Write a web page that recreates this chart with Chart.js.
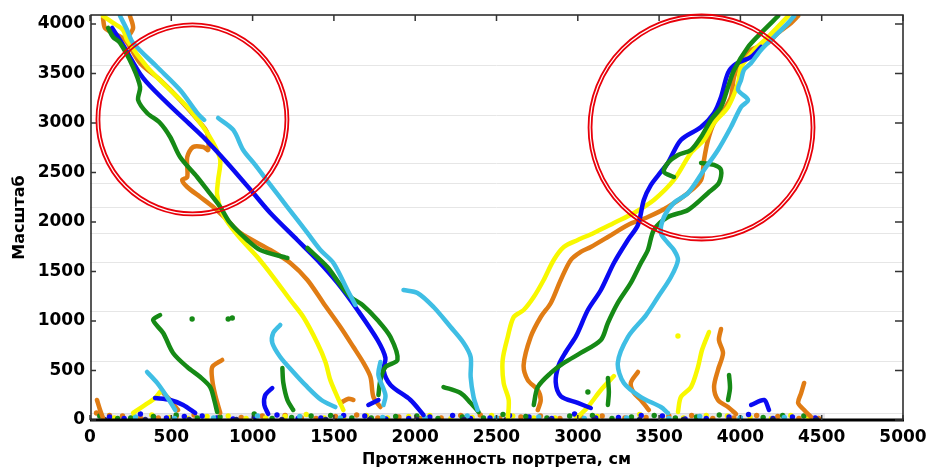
<!DOCTYPE html>
<html>
<head>
<meta charset="utf-8">
<script src="https://cdn.jsdelivr.net/npm/chart.js@4"></script>
<style>
  html, body { margin: 0; padding: 0; background: #fff; }
</style>
</head>
<body>
<canvas id="chart" width="926" height="471"></canvas>
<script>
// axis ticks and the light horizontal rules of the original picture
const xTicks = [0, 500, 1000, 1500, 2000, 2500, 3000, 3500, 4000, 4500, 5000];
const yTicks = [0, 500, 1000, 1500, 2000, 2500, 3000, 3500, 4000];
const gridLines = [71, 596, 1101, 1596, 1889, 2151, 2394, 2596, 3081, 3586];

// traces: [length, scale]
const blueL = [[136,3959],[203,3788],[326,3454],[474,3202],[598,3010],[696,2858],[844,2596],[1004,2293],[1109,2091],[1275,1818],[1398,1616],[1522,1384],[1645,1111],[1768,808],[1817,626],[1805,505],[1848,354],[1971,202],[2051,51]];
const cyanL1 = [[185,4080],[228,3939],[265,3808],[413,3565],[554,3333],[659,3101],[702,3030]];
const cyanL2 = [[788,3050],[881,2929],[942,2727],[1016,2576],[1109,2374],[1214,2151],[1337,1889],[1417,1717],[1497,1586],[1583,1313],[1632,1162]];
const cyanL3 = [[1786,586],[1774,454],[1817,252],[1805,152]];
const greenL1 = [[111,3959],[142,3868],[185,3808],[265,3565],[308,3363],[296,3232],[351,3101],[431,3000],[493,2858],[554,2656],[659,2454],[721,2323],[801,2151],[862,1990],[967,1818],[1047,1717],[1214,1636]];
const greenL2 = [[1337,1737],[1460,1545],[1540,1364],[1602,1242],[1676,1162],[1768,1010],[1848,838],[1891,606],[1817,535],[1786,404],[1774,253]];
const orangeL = [[80,4060],[92,3959],[142,3909],[216,3838],[308,3606],[431,3434],[554,3232],[678,3000],[721,2899],[727,2727],[696,2757],[634,2757],[598,2656],[598,2454],[567,2424],[598,2353],[678,2252],[758,2151],[844,2020],[924,1889],[1109,1717],[1232,1586],[1337,1414],[1435,1182],[1540,939],[1620,737],[1682,576],[1725,434],[1743,232],[1786,131]];
const orangeL2 = [[246,4080],[265,3959],[234,3868]];
const yellowL = [[80,4080],[142,4010],[203,3939],[228,3838],[351,3565],[474,3363],[598,3161],[696,2959],[758,2798],[801,2626],[788,2424],[782,2273],[819,2071],[906,1869],[1029,1646],[1127,1444],[1232,1212],[1312,1040],[1398,778],[1448,586],[1478,404],[1522,232],[1558,101]];

const blueR = [[3080,121],[3000,172],[2895,242],[2864,384],[2883,556],[2926,687],[2990,850],[3062,1111],[3142,1313],[3222,1586],[3308,1818],[3370,1970],[3406,2222],[3450,2374],[3511,2505],[3554,2596],[3634,2828],[3758,2959],[3838,3101],[3881,3262],[3924,3505],[3973,3596],[4066,3666],[4127,3767]];
const yellowR = [[2569,0],[2575,202],[2544,374],[2538,606],[2569,838],[2606,1040],[2667,1111],[2729,1242],[2790,1414],[2852,1616],[2914,1747],[3000,1818],[3098,1889],[3222,1990],[3345,2091],[3468,2222],[3591,2424],[3696,2697],[3776,2828],[3838,3000],[3924,3161],[3986,3404],[4004,3565],[4084,3737],[4170,3868],[4294,4080]];
const orangeR = [[2754,101],[2772,202],[2754,303],[2692,404],[2667,556],[2710,838],[2772,1040],[2834,1182],[2895,1414],[2957,1616],[3018,1697],[3080,1747],[3185,1848],[3308,1970],[3431,2050],[3554,2151],[3678,2293],[3758,2424],[3776,2626],[3801,2828],[3838,3000],[3899,3131],[3942,3262],[3961,3464],[4004,3636],[4066,3737],[4170,3808],[4232,3909],[4312,4010],[4355,4080]];
const greenR1 = [[2729,152],[2754,333],[2834,475],[2914,576],[3018,677],[3142,808],[3185,980],[3246,1182],[3326,1384],[3388,1586],[3431,1717],[3468,1919],[3554,2050],[3678,2121],[3801,2293],[3868,2394],[3881,2525],[3838,2576],[3758,2596]];
const greenR2 = [[3591,2454],[3530,2505],[3554,2596],[3616,2677],[3696,2727],[3758,2858],[3819,3030],[3881,3161],[3924,3363],[3961,3535],[4047,3767],[4127,3909],[4232,4080]];
const cyanR = [[3554,71],[3511,131],[3388,232],[3283,374],[3246,576],[3308,838],[3420,1060],[3493,1242],[3573,1444],[3616,1616],[3591,1717],[3554,1788],[3511,1889],[3530,2050],[3591,2192],[3678,2293],[3776,2525],[3862,2727],[3942,2959],[4004,3161],[4047,3232],[3986,3333],[4004,3434],[4022,3535],[4066,3606],[4127,3737],[4207,3868],[4294,4010],[4330,4080]];

const cyanM = [[1928,1313],[2014,1283],[2113,1141],[2218,939],[2298,778],[2341,636],[2341,434],[2359,232],[2384,101]];
const greenM = [[2174,333],[2279,273],[2341,172],[2390,81]];
const cyanS = [[1170,960],[1127,879],[1121,778],[1170,636],[1250,485],[1324,354],[1423,202],[1509,131]];
const greenF1 = [[431,1060],[388,1010],[450,879],[511,677],[598,535],[678,434],[739,333],[764,202],[782,81]];
const orangeF1 = [[813,606],[752,535],[752,404],[770,252],[801,71]];
const blueF1 = [[1121,323],[1078,252],[1072,152],[1096,61]];
const greenF2 = [[1183,525],[1189,374],[1214,202],[1250,101]];
const cyanF1 = [[351,485],[413,374],[474,232],[524,101]];
const yellowF1 = [[265,71],[339,152],[400,222],[431,283]];
const orangeF2 = [[450,273],[493,202],[542,101]];
const blueF2 = [[400,222],[493,202],[573,152],[647,71]];
const orangeF3 = [[43,202],[62,101],[80,20]];
const yellowF2 = [[3616,81],[3634,232],[3696,333],[3739,535],[3764,707],[3807,889]];
const orangeF4 = [[3881,919],[3868,808],[3893,677],[3862,505],[3838,333],[3862,202],[3924,131],[3973,61]];
const greenF3 = [[3930,455],[3936,323],[3924,202]];
const orangeF5 = [[4392,374],[4374,273],[4355,172],[4392,101],[4435,30]];
const orangeF6 = [[3370,485],[3326,374],[3345,273],[3388,202],[3437,101]];
const yellowF3 = [[3222,444],[3142,303],[3062,131],[3000,30]];
const greenF4 = [[3185,424],[3191,283],[3185,152]];
const blueF3 = [[4066,152],[4146,202],[4176,101]];
const orangeF7 = [[1540,172],[1590,215],[1620,202]];
const blueF4 = [[1712,152],[1774,202]];

// isolated blobs and the clutter along the bottom edge
const greenDots = [[628,1020],[850,1020],[875,1030],[3062,283],[60,40],[170,15],[250,20],[390,35],[530,50],[660,20],[800,30],[1010,60],[1120,15],[1240,25],[1360,40],[1480,45],[1610,20],[1730,20],[1880,35],[2010,40],[2140,15],[2290,30],[2420,20],[2540,55],[2680,35],[2810,20],[2950,40],[3090,45],[3210,15],[3330,30],[3470,45],[3600,20],[3730,30],[3870,50],[4000,20],[4140,25],[4260,45],[4390,40]];
const yellowDots = [[3616,848],[150,20],[270,35],[380,50],[490,25],[600,15],[720,35],[850,40],[960,15],[1080,20],[1200,35],[1330,55],[1440,20],[1560,30],[1700,45],[1830,20],[1960,35],[2090,45],[2220,15],[2350,25],[2470,45],[2600,40],[2730,20],[2860,20],[2990,40],[3120,35],[3250,15],[3380,55],[3520,30],[3650,20],[3790,45],[3920,40],[4060,25],[4190,15],[4310,45],[4420,30]];
const blueDots = [[120,30],[210,15],[310,60],[390,15],[470,20],[580,35],[690,40],[780,20],[880,10],[1010,25],[1150,50],[1280,15],[1420,20],[1560,45],[1690,40],[1820,10],[1960,15],[2090,30],[2230,45],[2340,15],[2460,20],[2580,45],[2700,30],[2840,15],[2980,60],[3110,20],[3250,25],[3390,45],[3520,40],[3660,10],[3790,15],[3930,30],[4050,55],[4200,15],[4320,30],[4460,20]];
const orangeDots = [[40,70],[120,45],[200,40],[310,20],[420,20],[530,35],[640,50],[790,20],[930,25],[1060,40],[1200,45],[1300,20],[1390,15],[1510,35],[1640,50],[1770,20],[1900,30],[2030,15],[2160,20],[2280,45],[2400,50],[2520,15],[2650,30],[2770,40],[2890,15],[3020,30],[3150,40],[3290,20],[3420,25],[3560,40],[3700,45],[3830,15],[3960,20],[4100,45],[4230,35],[4360,15],[4480,15]];
const cyanDots = [[280,30],[520,15],[760,20],[1030,40],[1290,35],[1540,20],[1800,25],[2060,20],[2320,40],[2500,20],[2760,30],[3040,15],[3300,20],[3560,15],[3750,35],[4000,20],[4270,25]];
const navyDots = [[90,5],[340,5],[610,5],[900,5],[1180,5],[1450,5],[1720,5],[2010,5],[2300,5],[2560,5],[2830,5],[3100,5],[3380,5],[3650,5],[3930,5],[4200,5],[4470,5]];

// the pale strip along the bottom: [xFrom, xTo, yFrom, yTo]
const bandBox = [40, 4520, 0, 70];
// red rings drawn over the chart: [x, y] centres
const ringCentres = [[630, 3035], [3761, 2954]];
const ringRadius = [96, 113];

const colors = {
    blue: "#0a0af2",
    cyan: "#3fbee4",
    green: "#168a16",
    orange: "#e07c14",
    yellow: "#f8f800",
    navy: "#2b2a6e"
};

const lines = [
    [cyanL1, "cyan"], [cyanL2, "cyan"], [cyanL3, "cyan"], [cyanR, "cyan"], [cyanM, "cyan"], [cyanS, "cyan"], [cyanF1, "cyan"],
    [greenL1, "green"], [greenL2, "green"], [greenR1, "green"], [greenR2, "green"], [greenM, "green"],
    [greenF1, "green"], [greenF2, "green"], [greenF3, "green"], [greenF4, "green"],
    [blueL, "blue"], [blueR, "blue"], [blueF1, "blue"], [blueF2, "blue"], [blueF3, "blue"], [blueF4, "blue"],
    [yellowL, "yellow"], [yellowR, "yellow"], [yellowF1, "yellow"], [yellowF2, "yellow"], [yellowF3, "yellow"],
    [orangeL, "orange"], [orangeL2, "orange"], [orangeR, "orange"], [orangeF1, "orange"], [orangeF2, "orange"],
    [orangeF3, "orange"], [orangeF4, "orange"], [orangeF5, "orange"], [orangeF6, "orange"], [orangeF7, "orange"]
];
const dots = [[navyDots, "navy"], [cyanDots, "cyan"], [greenDots, "green"], [blueDots, "blue"], [yellowDots, "yellow"], [orangeDots, "orange"]];

const datasets = lines.map(([data, c]) => ({
    data: data,
    borderColor: colors[c],
    borderWidth: 4.5,
    borderCapStyle: "round",
    borderJoinStyle: "round",
    tension: 0.3,
    pointRadius: 0,
    fill: false
})).concat(dots.map(([data, c]) => ({
    data: data,
    showLine: false,
    pointRadius: 2.7,
    pointBorderWidth: 0,
    pointBackgroundColor: colors[c]
})));

const frame = {
    id: "frame",
    beforeDatasetsDraw(chart) {
        const {ctx, chartArea: a, scales: {x, y}} = chart;
        ctx.save();
        ctx.strokeStyle = "#e6e6e6";
        ctx.lineWidth = 1;
        gridLines.forEach(v => {
            const py = Math.round(y.getPixelForValue(v)) + 0.5;
            ctx.beginPath();
            ctx.moveTo(a.left, py);
            ctx.lineTo(a.right, py);
            ctx.stroke();
        });
        const bx0 = x.getPixelForValue(bandBox[0]);
        const bx1 = x.getPixelForValue(bandBox[1]);
        const by0 = y.getPixelForValue(bandBox[3]);
        const by1 = y.getPixelForValue(bandBox[2]);
        ctx.fillStyle = "rgba(205,205,215,0.45)";
        ctx.fillRect(bx0, by0, bx1 - bx0, by1 - by0);
        ctx.restore();
    },
    afterDatasetsDraw(chart) {
        const {ctx, chartArea: a, scales: {x, y}} = chart;
        ctx.save();
        // box
        ctx.strokeStyle = "#222";
        ctx.lineWidth = 1.5;
        ctx.beginPath();
        ctx.moveTo(a.left + 1, a.bottom);
        ctx.lineTo(a.left + 1, a.top);
        ctx.lineTo(a.right, a.top);
        ctx.lineTo(a.right, a.bottom);
        ctx.stroke();
        ctx.strokeStyle = "#000";
        ctx.lineWidth = 3;
        ctx.beginPath();
        ctx.moveTo(a.left, a.bottom);
        ctx.lineTo(a.right + 1, a.bottom);
        ctx.stroke();
        // inward tick marks
        ctx.lineWidth = 1.5;
        ctx.strokeStyle = "#333";
        yTicks.forEach(v => {
            const py = y.getPixelForValue(v);
            ctx.beginPath();
            ctx.moveTo(a.left + 1, py); ctx.lineTo(a.left + 6, py);
            ctx.moveTo(a.right, py); ctx.lineTo(a.right - 8, py);
            ctx.stroke();
        });
        xTicks.forEach(v => {
            const px = x.getPixelForValue(v);
            ctx.beginPath();
            ctx.moveTo(px, a.top); ctx.lineTo(px, a.top + 6);
            ctx.moveTo(px, a.bottom); ctx.lineTo(px, a.bottom - 5);
            ctx.stroke();
        });
        // red rings, double line
        ctx.strokeStyle = "#e8000a";
        ctx.lineWidth = 1.8;
        ringCentres.forEach(([cx, cy], i) => {
            const px = x.getPixelForValue(cx);
            const py = y.getPixelForValue(cy);
            [ringRadius[i], ringRadius[i] - 3].forEach(r => {
                ctx.beginPath();
                ctx.arc(px, py, r, 0, Math.PI * 2);
                ctx.stroke();
            });
        });
        ctx.restore();
    }
};

const tickFont = {family: "DejaVu Sans", size: 17, weight: "bold"};
const titleFont = {family: "DejaVu Sans", size: 16, weight: "bold"};

new Chart(document.getElementById("chart"), {
    type: "line",
    data: {datasets: datasets},
    options: {
        responsive: false,
        animation: false,
        layout: {padding: {top: 15, right: 23, left: 0, bottom: 0}},
        plugins: {legend: {display: false}, tooltip: {enabled: false}},
        scales: {
            x: {
                type: "linear",
                min: 0,
                max: 5000,
                afterBuildTicks: s => { s.ticks = xTicks.map(v => ({value: v})); },
                afterFit: s => { s.height = 51; s.paddingLeft = 0; s.paddingRight = 0; },
                grid: {display: false, drawTicks: false},
                border: {display: false},
                ticks: {font: tickFont, color: "#000", padding: 7, autoSkip: false, maxRotation: 0, callback: v => String(v)},
                title: {display: true, text: "Протяженность портрета, см", font: titleFont, color: "#000", padding: {top: 0, bottom: 2}}
            },
            y: {
                type: "linear",
                min: 0,
                max: 4090,
                afterBuildTicks: s => { s.ticks = yTicks.map(v => ({value: v})); },
                afterFit: s => { s.width = 90; s.paddingTop = 0; s.paddingBottom = 0; },
                grid: {display: false, drawTicks: false},
                border: {display: false},
                ticks: {font: tickFont, color: "#000", padding: 5, callback: v => String(v)},
                title: {display: true, text: "Масштаб", font: titleFont, color: "#000", padding: {top: 10, bottom: 0}}
            }
        }
    },
    plugins: [frame]
});
</script>
</body>
</html>
